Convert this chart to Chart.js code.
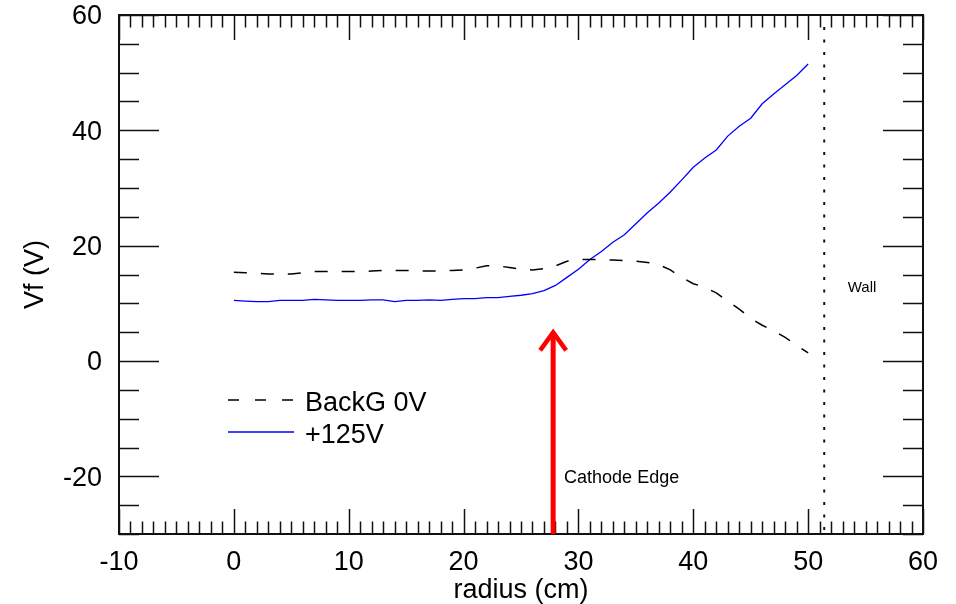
<!DOCTYPE html>
<html>
<head>
<meta charset="utf-8">
<script src="https://cdn.jsdelivr.net/npm/chart.js@4.4.0/dist/chart.umd.min.js"></script>
<style>
  body { margin: 0; background: #fff; }
</style>
</head>
<body>
<canvas id="vfChart" width="956" height="604"></canvas>
<script>
const radius = [0, 1, 2, 3, 4, 5, 6, 7, 8, 9, 10, 11, 12, 13, 14, 15, 16, 17, 18, 19, 20,
  21, 22, 23, 24, 25, 26, 27, 28, 29, 30, 31, 32, 33, 34, 35, 36, 37, 38, 39, 40,
  41, 42, 43, 44, 45, 46, 47, 48, 49, 50];

// BackG 0V (dashed black)
const backG = [15.4, 15.3, 15.2, 15.1, 15.1, 15.1, 15.3, 15.5, 15.5, 15.5, 15.5,
  15.5, 15.6, 15.7, 15.7, 15.7, 15.6, 15.6, 15.6, 15.7, 15.8,
  16.1, 16.5, 16.5, 16.2, 15.9, 15.8, 16.0, 16.5, 17.3, 17.6,
  17.6, 17.6, 17.5, 17.4, 17.3, 17.1, 16.7, 15.8, 14.5, 13.4,
  12.8, 11.8, 10.4, 9.0, 7.4, 6.2, 5.2, 4.1, 2.7, 1.4];

// +125V (solid blue)
const plus125 = [10.5, 10.4, 10.3, 10.3, 10.5, 10.5, 10.5, 10.7, 10.6, 10.5, 10.5,
  10.5, 10.6, 10.6, 10.3, 10.5, 10.5, 10.6, 10.5, 10.7, 10.8,
  10.8, 11.0, 11.0, 11.2, 11.4, 11.7, 12.2, 13.1, 14.5, 15.9,
  17.6, 19.0, 20.6, 21.9, 23.8, 25.7, 27.4, 29.3, 31.4, 33.6,
  35.2, 36.6, 39.0, 40.7, 42.1, 44.6, 46.3, 47.9, 49.5, 51.5];

const xTicks = [-10, 0, 10, 20, 30, 40, 50, 60];
const yTicks = [-20, 0, 20, 40, 60];

const wallX = 51.4;
const cathodeX = 27.8;
const cathodeTip = 5.3;

const FONT = '"Liberation Sans", Arial, Helvetica, sans-serif';
Chart.defaults.font.family = FONT;
Chart.defaults.color = '#000';

// frame, inward ticks, wall, arrow, notes and legend
const decorations = {
  id: 'decorations',
  afterDraw(chart) {
    const { ctx, chartArea: a, scales: { x, y } } = chart;
    ctx.save();

    // minor/major ticks on all four sides
    ctx.strokeStyle = '#111';
    ctx.lineWidth = 1.5;
    ctx.beginPath();
    for (let v = -10; v <= 60; v++) {
      const px = Math.round(x.getPixelForValue(v)) + 0.5;
      const len = v % 10 === 0 ? 25 : 12.5;
      ctx.moveTo(px, a.bottom); ctx.lineTo(px, a.bottom - len);
      ctx.moveTo(px, a.top); ctx.lineTo(px, a.top + len);
    }
    for (let v = -30; v <= 60; v += 5) {
      const py = Math.round(y.getPixelForValue(v)) + 0.5;
      const len = v % 20 === 0 ? 40 : 20;
      ctx.moveTo(a.left, py); ctx.lineTo(a.left + len, py);
      ctx.moveTo(a.right, py); ctx.lineTo(a.right - len, py);
    }
    ctx.stroke();

    ctx.lineWidth = 2;
    ctx.strokeRect(a.left, a.top, a.right - a.left, a.bottom - a.top);

    // wall, dotted
    const wx = x.getPixelForValue(wallX);
    ctx.setLineDash([3, 9.5]);
    ctx.lineWidth = 2;
    ctx.beginPath();
    ctx.moveTo(wx, a.top + 12);
    ctx.lineTo(wx, a.bottom);
    ctx.stroke();
    ctx.setLineDash([]);

    // cathode edge arrow
    const cx = x.getPixelForValue(cathodeX);
    const tipY = y.getPixelForValue(cathodeTip);
    ctx.strokeStyle = '#ff0000';
    ctx.lineWidth = 5;
    ctx.beginPath();
    ctx.moveTo(cx, a.bottom);
    ctx.lineTo(cx, tipY + 2);
    ctx.stroke();
    ctx.lineWidth = 4.5;
    ctx.lineJoin = 'miter';
    ctx.beginPath();
    ctx.moveTo(cx - 13, tipY + 20);
    ctx.lineTo(cx, tipY + 2);
    ctx.lineTo(cx + 13, tipY + 20);
    ctx.stroke();

    // notes
    ctx.fillStyle = '#000';
    ctx.textBaseline = 'alphabetic';
    ctx.textAlign = 'left';
    ctx.font = '18px ' + FONT;
    ctx.fillText('Cathode Edge', x.getPixelForValue(28.75), y.getPixelForValue(-21.2));
    ctx.font = '15px ' + FONT;
    ctx.fillText('Wall', x.getPixelForValue(53.45), y.getPixelForValue(11.9));

    // legend
    const items = chart.data.datasets;
    const rows = [400, 432];
    const textBase = [411, 443];
    ctx.font = '27px ' + FONT;
    items.forEach((ds, i) => {
      ctx.strokeStyle = ds.borderColor;
      ctx.lineWidth = ds.borderWidth;
      ctx.setLineDash(ds.borderDash ? [11, 16] : []);
      ctx.beginPath();
      ctx.moveTo(228, rows[i]);
      ctx.lineTo(294, rows[i]);
      ctx.stroke();
      ctx.setLineDash([]);
      ctx.fillText(ds.label, 305, textBase[i]);
    });

    ctx.restore();
  }
};

const ctx = document.getElementById('vfChart').getContext('2d');
new Chart(ctx, {
  type: 'line',
  data: {
    datasets: [
      {
        label: 'BackG 0V',
        data: radius.map((r, i) => ({ x: r, y: backG[i] })),
        borderColor: '#000',
        borderWidth: 1.5,
        borderDash: [13, 14],
        pointRadius: 0,
        tension: 0,
        fill: false,
      },
      {
        label: '+125V',
        data: radius.map((r, i) => ({ x: r, y: plus125[i] })),
        borderColor: '#0000ff',
        borderWidth: 1.3,
        pointRadius: 0,
        tension: 0,
        fill: false,
      },
    ],
  },
  options: {
    responsive: false,
    animation: false,
    layout: { padding: { top: 15, right: 33, left: 0, bottom: 0 } },
    plugins: {
      legend: { display: false },
      tooltip: { enabled: false },
    },
    scales: {
      x: {
        type: 'linear',
        min: -10,
        max: 60,
        grid: { display: false },
        border: { display: false },
        afterBuildTicks: (s) => { s.ticks = xTicks.map((v) => ({ value: v })); },
        afterFit: (s) => { s.height = 70; s.paddingLeft = 0; s.paddingRight = 0; },
        ticks: { padding: 4, autoSkip: false, maxRotation: 0, font: { size: 27 } },
        title: { display: true, text: 'radius (cm)', font: { size: 27 }, padding: { top: 0, bottom: -3 } },
      },
      y: {
        type: 'linear',
        min: -30,
        max: 60,
        grid: { display: false },
        border: { display: false },
        afterBuildTicks: (s) => { s.ticks = yTicks.map((v) => ({ value: v })); },
        afterFit: (s) => { s.width = 119; s.paddingTop = 0; s.paddingBottom = 0; },
        ticks: { padding: 9, labelOffset: 2, font: { size: 27 } },
        title: { display: true, text: 'Vf (V)', font: { size: 27 }, padding: { top: 19, bottom: 0 } },
      },
    },
  },
  plugins: [decorations],
});
</script>
</body>
</html>
